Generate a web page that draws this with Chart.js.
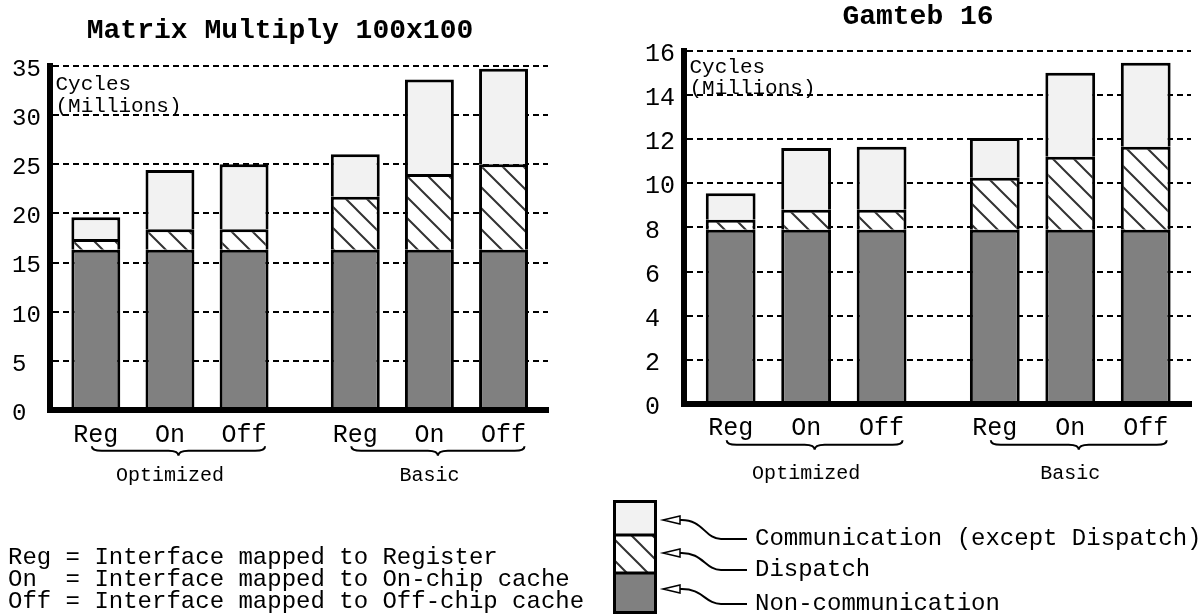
<!DOCTYPE html>
<html><head><meta charset="utf-8">
<script src="https://cdn.jsdelivr.net/npm/chart.js@4/dist/chart.umd.min.js"></script>
<style>
html,body{margin:0;padding:0;background:#fff;}
#wrap{position:relative;width:1203px;height:614px;overflow:hidden;background:#fff;}
.box{position:absolute;top:0;height:614px;}
#b1{left:0;width:600px;} #b2{left:600px;width:603px;}
</style></head><body>
<div id="wrap"><div class="box" id="b1"><canvas id="c1"></canvas></div><div class="box" id="b2"><canvas id="c2"></canvas></div></div>
<script>
// ---- data ----
const categories = ['Reg', 'On', 'Off'];
const groups = ['Optimized', 'Basic'];
const seriesNames = ['Non-communication', 'Dispatch', 'Communication (except Dispatch)'];
const titles = ['Matrix Multiply 100x100', 'Gamteb 16'];
const axisNote = ['Cycles', '(Millions)'];
// Matrix Multiply 100x100 (millions of cycles), order: Opt Reg/On/Off, Basic Reg/On/Off
const mmNonComm = [16.3, 16.3, 16.3, 16.3, 16.3, 16.3];
const mmDispatch = [1.1, 2.1, 2.1, 5.4, 7.7, 8.7];
const mmComm = [2.2, 6.0, 6.6, 4.3, 9.6, 9.7];
// Gamteb 16
const gtNonComm = [7.9, 7.9, 7.9, 7.9, 7.9, 7.9];
const gtDispatch = [0.45, 0.9, 0.9, 2.35, 3.3, 3.75];
const gtComm = [1.2, 2.8, 2.85, 1.8, 3.8, 3.8];
const mmYTicks = [0, 5, 10, 15, 20, 25, 30, 35];
const gtYTicks = [0, 2, 4, 6, 8, 10, 12, 14, 16];
const keyLines = ['Reg = Interface mapped to Register', 'On  = Interface mapped to On-chip cache', 'Off = Interface mapped to Off-chip cache'];

// ---- layout helpers ----
const GROUP_GAP = 0.5;
const xPos = [];
const xLab = [];
groups.forEach((g, gi) => categories.forEach((c, ci) => { xPos.push(gi * (categories.length + GROUP_GAP) + ci); xLab.push(c); }));

Chart.defaults.font.family = "'Liberation Mono', monospace";
Chart.defaults.color = '#000';

function hatchPattern() {
  const n = 21, c = document.createElement('canvas');
  c.width = n; c.height = n;
  const x = c.getContext('2d');
  x.fillStyle = '#fff'; x.fillRect(0, 0, n, n);
  x.strokeStyle = '#333'; x.lineWidth = 2;
  x.beginPath();
  x.moveTo(-3, -3); x.lineTo(n + 3, n + 3);
  x.moveTo(-3, n - 3); x.lineTo(3, n + 3);
  x.moveTo(n - 3, -3); x.lineTo(n + 3, 3);
  x.stroke();
  return document.createElement('canvas').getContext('2d').createPattern(c, 'repeat');
}
const HATCH = hatchPattern();
const colors = ['#808080', HATCH, '#f2f2f2'];

function drawBrace(ctx, x1, x2, y0, y1, y2) {
  const mid = (x1 + x2) / 2, r = 10;
  ctx.beginPath();
  ctx.moveTo(x1, y0);
  ctx.quadraticCurveTo(x1, y1, x1 + r, y1);
  ctx.lineTo(mid - r, y1);
  ctx.quadraticCurveTo(mid, y1, mid, y2);
  ctx.quadraticCurveTo(mid, y1, mid + r, y1);
  ctx.lineTo(x2 - r, y1);
  ctx.quadraticCurveTo(x2, y1, x2, y0);
  ctx.stroke();
}

const extras = {
  id: 'extras',
  afterDraw(chart, args, o) {
    const ctx = chart.ctx, xs = chart.scales.x, a = chart.chartArea;
    ctx.save();
    ctx.fillStyle = '#000'; ctx.strokeStyle = '#000';
    ctx.textBaseline = 'middle'; ctx.textAlign = 'left';
    ctx.font = "21px 'Liberation Mono'";
    ctx.fillText(axisNote[0], a.left + 6, a.top + o.note[0]);
    ctx.fillText(axisNote[1], a.left + 6, a.top + o.note[1]);
    ctx.lineWidth = 2;
    groups.forEach((g, gi) => {
      const n = categories.length;
      const p1 = xs.getPixelForValue(xPos[gi * n]);
      const p2 = xs.getPixelForValue(xPos[gi * n + n - 1]);
      const pm = xs.getPixelForValue(xPos[gi * n + 1]);
      drawBrace(ctx, p1 - 4, p2 + 21, a.bottom + 36, a.bottom + 40.5, a.bottom + 45.5);
      ctx.font = "20px 'Liberation Mono'"; ctx.textAlign = 'center';
      ctx.fillText(g, pm, o.groupY);
    });
    ctx.textAlign = 'left';
    if (o.key) {
      ctx.font = "24px 'Liberation Mono'";
      keyLines.forEach((t, i) => ctx.fillText(t, 8, o.key[i]));
    }
    if (o.legend) {
      const L = o.legend;
      const ds = chart.data.datasets;
      const order = [2, 1, 0];
      order.forEach((di, k) => {
        const y0 = L.segs[k], y1 = L.segs[k + 1];
        ctx.fillStyle = ds[di].backgroundColor;
        ctx.fillRect(L.x, y0, L.w, y1 - y0);
      });
      ctx.lineWidth = 3; ctx.strokeStyle = '#000';
      ctx.strokeRect(L.x + 1.5, L.segs[0] + 1.5, L.w - 3, L.segs[3] - L.segs[0] - 3);
      ctx.beginPath();
      [1, 2].forEach(k => { ctx.moveTo(L.x, L.segs[k]); ctx.lineTo(L.x + L.w, L.segs[k]); });
      ctx.stroke();
      order.forEach((di, k) => {
        const ya = L.arrowY[k], yt = L.textY[k];
        ctx.strokeStyle = '#000';
        ctx.lineWidth = 2;
        ctx.beginPath();
        ctx.moveTo(L.tip + 17, ya);
        ctx.bezierCurveTo(L.tip + 40, ya - 1, L.tip + 42, yt, L.tip + 58, yt);
        ctx.lineTo(L.tip + 84, yt);
        ctx.stroke();
        ctx.lineWidth = 1.5;
        ctx.beginPath();
        ctx.moveTo(L.tip, ya); ctx.lineTo(L.tip + 17, ya - 4); ctx.lineTo(L.tip + 17, ya + 4); ctx.closePath();
        ctx.fillStyle = '#fff'; ctx.fill(); ctx.stroke();
        ctx.fillStyle = '#000';
        ctx.font = "24px 'Liberation Mono'";
        ctx.fillText(ds[di].label, L.tip + 92, yt);
      });
    }
    ctx.restore();
  }
};

function makeChart(id, cfg) {
  const pts = arr => arr.map((v, i) => ({x: xPos[i], y: v}));
  return new Chart(document.getElementById(id), {
    type: 'bar',
    data: {datasets: [
      {label: seriesNames[0], data: pts(cfg.series[0]), backgroundColor: colors[0]},
      {label: seriesNames[1], data: pts(cfg.series[1]), backgroundColor: colors[1]},
      {label: seriesNames[2], data: pts(cfg.series[2]), backgroundColor: colors[2]}
    ]},
    options: {
      responsive: true, maintainAspectRatio: false, animation: false, devicePixelRatio: 1,
      layout: {padding: {left: cfg.padL, right: cfg.padR, top: 0, bottom: 0}},
      datasets: {bar: {borderColor: '#000', borderWidth: 3, barPercentage: 1, categoryPercentage: 0.66}},
      scales: {
        x: {
          type: 'linear', stacked: true, min: -0.625, max: 6.1, offset: false, bounds: 'data',
          grid: {display: false, offset: false},
          border: {display: true, width: 6, color: '#000', z: 1},
          afterBuildTicks: s => { s.ticks = xPos.map(v => ({value: v})); },
          afterFit: s => { s.height = cfg.xh; },
          ticks: {autoSkip: false, maxRotation: 0, padding: cfg.xpad, color: '#000', font: {size: 25},
                  callback: (v, i) => xLab[i]}
        },
        y: {
          stacked: true, min: 0, max: cfg.yTicks[cfg.yTicks.length - 1],
          grid: {color: '#000', lineWidth: 2, drawTicks: false},
          border: {display: true, width: 6, color: '#000', dash: [6, 4], z: 1},
          afterBuildTicks: s => { s.ticks = cfg.yTicks.map(v => ({value: v})); },
          afterFit: s => { s.width = cfg.yw; },
          ticks: {crossAlign: 'far', padding: 0, labelOffset: 3.5, color: '#000', font: {size: cfg.yfont}}
        }
      },
      plugins: {
        legend: {display: false}, tooltip: {enabled: false},
        title: {display: true, text: cfg.title, color: '#000', font: {size: 28, weight: 'bold'},
                padding: {top: cfg.tpt, bottom: cfg.tpb}},
        extras: cfg.extras
      }
    },
    plugins: [extras]
  });
}

makeChart('c1', {
  series: [mmNonComm, mmDispatch, mmComm], yTicks: mmYTicks, title: titles[0],
  padL: 12, padR: 52, yw: 37.5, xh: 203.7, xpad: 2, yfont: 24, tpt: 14.2, tpb: 17.9,
  extras: {note: [19, 40.5], groupY: 475.5, key: [558, 580, 601.5]}
});
makeChart('c2', {
  series: [gtNonComm, gtDispatch, gtComm], yTicks: gtYTicks, title: titles[1],
  padL: 45, padR: 12, yw: 38.5, xh: 209.8, xpad: 1.5, yfont: 25, tpt: 0, tpb: 17.1,
  extras: {note: [16.5, 38], groupY: 474,
           legend: {x: 13, w: 44, segs: [500, 535, 573, 614], tip: 63, arrowY: [520, 553, 589], textY: [539, 570, 604]}}
});
</script>
</body></html>
